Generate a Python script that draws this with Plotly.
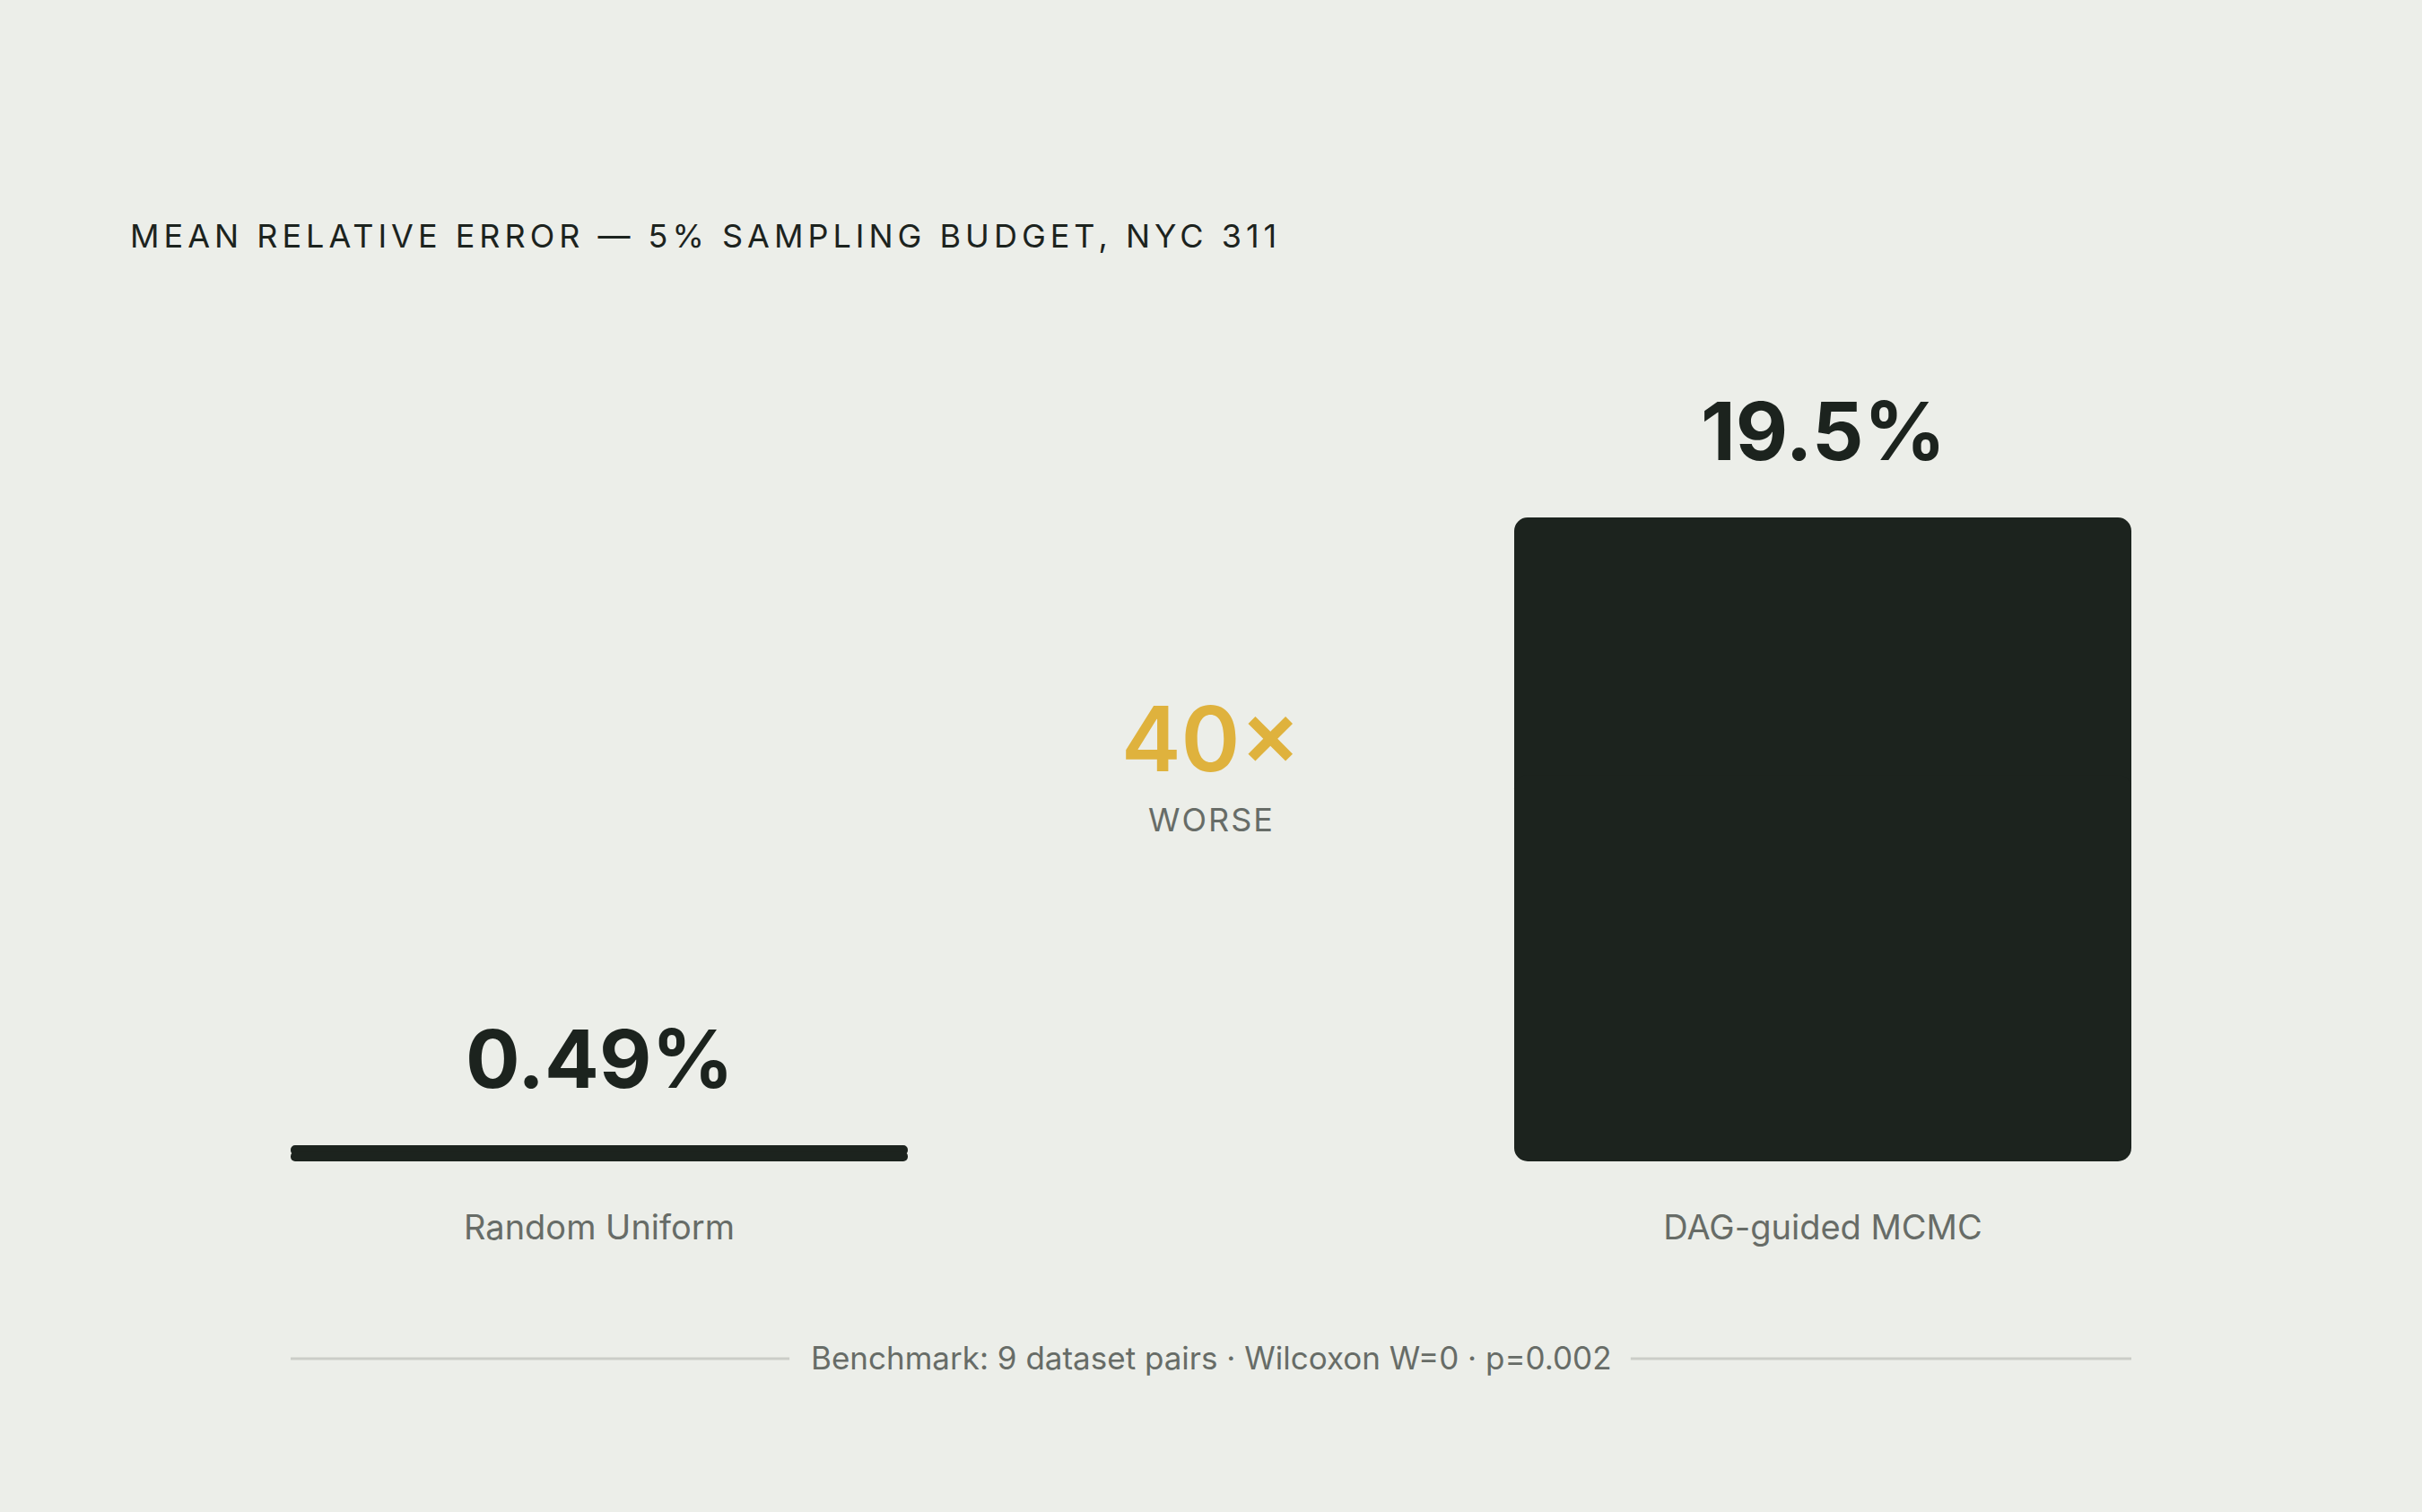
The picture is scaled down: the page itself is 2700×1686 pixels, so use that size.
import plotly.graph_objects as go

# data
methods = ["Random Uniform", "DAG-guided MCMC"]
mean_rel_error = [0.49, 19.5]
value_labels = ["0.49%", "19.5%"]
footer_note = "Benchmark: 9 dataset pairs · Wilcoxon W=0 · p=0.002"

BG = "#eceee9"
INK = "#1c231e"
GREY = "#676c67"
GOLD = "#dfb23d"
FONT = "Inter"
CORNER = [9, 15]  # px, the thin bar becomes a pill

# 1 category unit = 1364 px, bars 688 px wide (keeps edges on whole pixels)
half = 344 / 1364
xs = list(range(len(methods)))
ratio = round(mean_rel_error[1] / mean_rel_error[0])

fig = go.Figure()
# each bar = two overlapping halves, so both ends get rounded corners
for x, v, lab, r in zip(xs, mean_rel_error, value_labels, CORNER):
    fig.add_trace(go.Bar(x=[x], y=[v * 0.6], base=[v * 0.4], width=2 * half,
                         marker=dict(color=INK, line=dict(width=0), cornerradius=r),
                         hoverinfo="skip"))
    fig.add_trace(go.Bar(x=[x], y=[-v * 0.6], base=[v * 0.6], width=2 * half,
                         marker=dict(color=INK, line=dict(width=0), cornerradius=r),
                         customdata=[lab], hovertemplate="%{customdata}<extra></extra>"))
    fig.add_annotation(x=x, y=v, text=lab, showarrow=False, yanchor="bottom",
                       yshift=40, font=dict(family=FONT, size=90, color=INK, weight=700))

# ratio callout between the bars
fig.add_annotation(x=0.5, y=0.431, xref="x", yref="paper", text=f"{ratio}×",
                   showarrow=False, font=dict(family=FONT, size=100, color=GOLD, weight=600))
fig.add_annotation(x=0.5, y=0.348, xref="x", yref="paper", text="WORSE",
                   showarrow=False, font=dict(family=FONT, size=36, color=GREY))

# footer rule + note
fy = -0.2009
fig.add_annotation(x=0.5, y=fy, xref="paper", yref="paper", text=footer_note,
                   showarrow=False, yshift=-22,
                   font=dict(family=FONT, size=35, color=GREY))
fig.add_shape(type="line", xref="paper", yref="paper", x0=0, x1=0.271, y0=fy, y1=fy,
              line=dict(color="#cbcdc8", width=3))
fig.add_shape(type="line", xref="paper", yref="paper", x0=0.728, x1=1, y0=fy, y1=fy,
              line=dict(color="#cbcdc8", width=3))

fig.update_layout(
    width=2700, height=1686,
    paper_bgcolor=BG, plot_bgcolor=BG,
    margin=dict(l=324, r=324, t=200, b=391),
    barmode="overlay",
    showlegend=False,
    title=dict(text="MEAN RELATIVE ERROR — 5% SAMPLING BUDGET, NYC 311",
               x=145 / 2700, xanchor="left", xref="container",
               y=1 - 263 / 1686, yanchor="middle", yref="container",
               font=dict(family=FONT, size=36, color=INK)),
    xaxis=dict(range=[-half, 1 + half], tickvals=xs, ticktext=methods,
               showgrid=False, zeroline=False, showline=False, ticks="",
               ticklabelstandoff=48,
               tickfont=dict(family=FONT, size=38, color=GREY)),
    yaxis=dict(range=[0, 19.5 * 1095 / 718], visible=False, showgrid=False),
)

# no page margin; spaced-out caps for the title and WORSE
post = """
document.body.style.margin = '0';
var gd = document.getElementById('{plot_id}');
gd.querySelectorAll('.gtitle').forEach(function (t) { t.style.letterSpacing = '5px'; });
gd.querySelectorAll('.annotation-text').forEach(function (t) {
  if (t.textContent === 'WORSE') { t.style.letterSpacing = '2px'; }
});
"""
fig.write_html("out.html", post_script=post, config={"displayModeBar": False})
